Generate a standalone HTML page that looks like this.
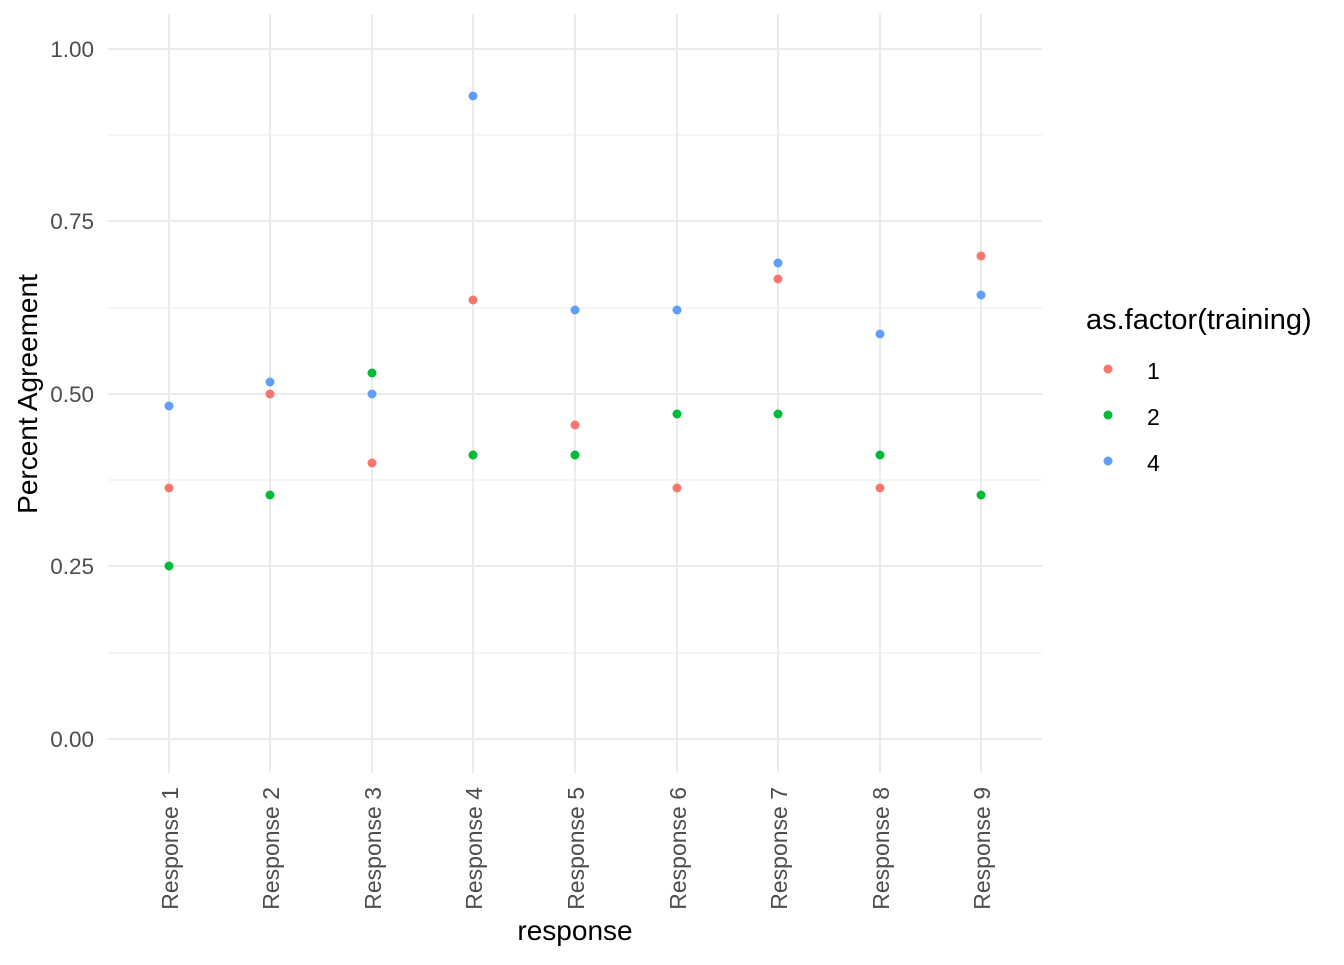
<!DOCTYPE html>
<html><head><style>body{margin:0;background:#fff}</style></head><body>
<svg width="1344" height="960" xmlns="http://www.w3.org/2000/svg" font-family="Liberation Sans, sans-serif">
<rect width="1344" height="960" fill="#fff"/>
<g stroke="#ebebeb" stroke-width="1">
<line x1="108" x2="1042" y1="135" y2="135"/><line x1="108" x2="1042" y1="308" y2="308"/>
<line x1="108" x2="1042" y1="480" y2="480"/><line x1="108" x2="1042" y1="653" y2="653"/>
</g>
<g stroke="#ebebeb" stroke-width="2">
<line x1="108" x2="1042" y1="49" y2="49"/><line x1="108" x2="1042" y1="221" y2="221"/>
<line x1="108" x2="1042" y1="394" y2="394"/><line x1="108" x2="1042" y1="566" y2="566"/>
<line x1="108" x2="1042" y1="739" y2="739"/>
<line x1="169" x2="169" y1="14" y2="773"/><line x1="270" x2="270" y1="14" y2="773"/>
<line x1="372" x2="372" y1="14" y2="773"/><line x1="473" x2="473" y1="14" y2="773"/>
<line x1="575" x2="575" y1="14" y2="773"/><line x1="677" x2="677" y1="14" y2="773"/>
<line x1="778" x2="778" y1="14" y2="773"/><line x1="880" x2="880" y1="14" y2="773"/>
<line x1="981" x2="981" y1="14" y2="773"/>
</g>
<g fill="#4d4d4d" font-size="22.5" text-anchor="end">
<text x="94" y="57">1.00</text><text x="94" y="229">0.75</text><text x="94" y="402">0.50</text>
<text x="94" y="574">0.25</text><text x="94" y="747">0.00</text>
</g>
<g fill="#4d4d4d" font-size="23" text-anchor="end">
<text transform="translate(178,787) rotate(-90)">Response 1</text>
<text transform="translate(279,787) rotate(-90)">Response 2</text>
<text transform="translate(381,787) rotate(-90)">Response 3</text>
<text transform="translate(482,787) rotate(-90)">Response 4</text>
<text transform="translate(584,787) rotate(-90)">Response 5</text>
<text transform="translate(686,787) rotate(-90)">Response 6</text>
<text transform="translate(787,787) rotate(-90)">Response 7</text>
<text transform="translate(889,787) rotate(-90)">Response 8</text>
<text transform="translate(990,787) rotate(-90)">Response 9</text>
</g>
<text x="575" y="940" font-size="28" text-anchor="middle" fill="#000">response</text>
<text transform="translate(37,394) rotate(-90)" font-size="28" text-anchor="middle" fill="#000">Percent Agreement</text>
<g fill="#F8766D">
<circle cx="169" cy="488" r="4.5"/><circle cx="270" cy="394" r="4.5"/><circle cx="372" cy="463" r="4.5"/>
<circle cx="473" cy="300" r="4.5"/><circle cx="575" cy="425" r="4.5"/><circle cx="677" cy="488" r="4.5"/>
<circle cx="778" cy="279" r="4.5"/><circle cx="880" cy="488" r="4.5"/><circle cx="981" cy="256" r="4.5"/>
</g>
<g fill="#00BA38">
<circle cx="169" cy="566" r="4.5"/><circle cx="270" cy="495" r="4.5"/><circle cx="372" cy="373" r="4.5"/>
<circle cx="473" cy="455" r="4.5"/><circle cx="575" cy="455" r="4.5"/><circle cx="677" cy="414" r="4.5"/>
<circle cx="778" cy="414" r="4.5"/><circle cx="880" cy="455" r="4.5"/><circle cx="981" cy="495" r="4.5"/>
</g>
<g fill="#619CFF">
<circle cx="169" cy="406" r="4.5"/><circle cx="270" cy="382" r="4.5"/><circle cx="372" cy="394" r="4.5"/>
<circle cx="473" cy="96" r="4.5"/><circle cx="575" cy="310" r="4.5"/><circle cx="677" cy="310" r="4.5"/>
<circle cx="778" cy="263" r="4.5"/><circle cx="880" cy="334" r="4.5"/><circle cx="981" cy="295" r="4.5"/>
</g>
<text x="1086" y="329" font-size="29" fill="#000">as.factor(training)</text>
<circle cx="1108" cy="369" r="4.5" fill="#F8766D"/>
<circle cx="1108" cy="415" r="4.5" fill="#00BA38"/>
<circle cx="1108" cy="461" r="4.5" fill="#619CFF"/>
<g font-size="23" fill="#000">
<text x="1147" y="379">1</text><text x="1147" y="425">2</text><text x="1147" y="471">4</text>
</g>
</svg>
</body></html>
